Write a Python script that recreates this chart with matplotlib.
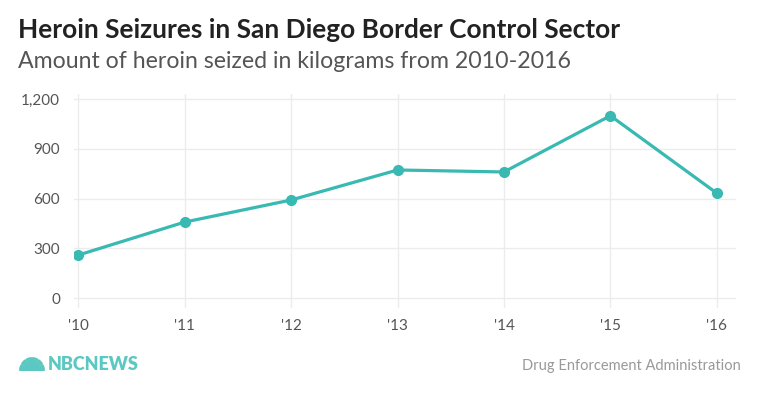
import numpy as np
import matplotlib.pyplot as plt
from matplotlib.patches import Wedge

years = ["'10", "'11", "'12", "'13", "'14", "'15", "'16"]
seized_kg = [259, 458, 591, 772, 760, 1099, 632]
yticks = [0, 300, 600, 900, 1200]

teal = '#38b9b2'
plt.rcParams['font.family'] = ['Lato', 'DejaVu Sans']

fig = plt.figure(figsize=(7.6, 3.99), dpi=100)
W, H = 760, 399

# axes placed so gridlines land where the reference has them
ax = fig.add_axes([74 / W, (H - 308) / H, (736 - 74) / W, (308 - 94) / H])
x = np.arange(len(years))
ax.plot(x, seized_kg, color=teal, lw=2.3, marker='o', ms=7, mfc=teal, mec=teal, zorder=3)

ax.set_xlim(-0.04, 6.18)
ax.set_ylim(-60, 1230)
ax.set_xticks(x)
ax.set_xticklabels(years)
ax.set_yticks(yticks)
ax.set_yticklabels([f"{v:,}" for v in yticks])
ax.grid(True, color='#ececec', lw=1)
ax.set_axisbelow(True)
for s in ax.spines.values():
    s.set_visible(False)
ax.tick_params(length=0, labelsize=11, labelcolor='#555555')
ax.tick_params(axis='y', pad=10)
ax.tick_params(axis='x', pad=8)

fig.text(18 / W, 1 - 30 / H, "Heroin Seizures in San Diego Border Control Sector",
         fontsize=18.9, fontweight='bold', color='#222222', va='center')
fig.text(18 / W, 1 - 62 / H, "Amount of heroin seized in kilograms from 2010-2016",
         fontsize=16.7, color='#555555', va='center')
fig.text(741 / W, 1 - 366 / H, "Drug Enforcement Administration",
         fontsize=10.5, color='#999999', ha='right', va='center')

# NBC logo: little peacock fan plus wordmark
fan = fig.add_axes([19 / W, (H - 371) / H, 26 / W, 14 / H])
fan.set_xlim(-1.9, 1.9)
fan.set_ylim(0, 1.9)
fan.axis('off')
for a0 in range(0, 180, 30):
    fan.add_patch(Wedge((0, 0), 1.8, a0 + 3, a0 + 27, color='#5cc8c2'))
fig.text(48 / W, 1 - 364 / H, "NBCNEWS", fontsize=13, fontweight='heavy',
         color='#5cc8c2', va='center')

fig.savefig('out.png', dpi=100)
